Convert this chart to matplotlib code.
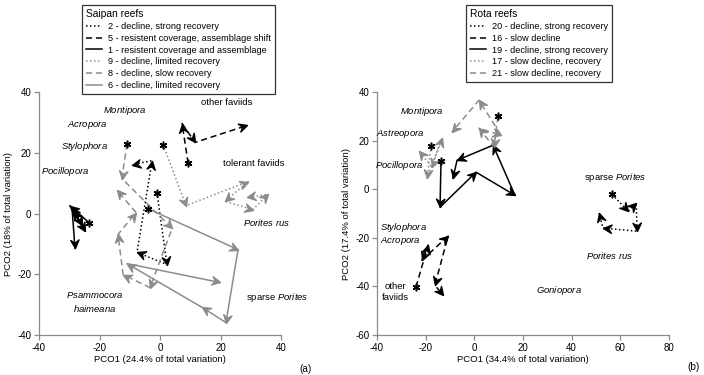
import numpy as np
import matplotlib
matplotlib.use('Agg')
import matplotlib.pyplot as plt
from matplotlib.lines import Line2D
from matplotlib.markers import MarkerStyle
from matplotlib.path import Path
from matplotlib.transforms import Affine2D

plt.rcParams['font.family'] = ['Liberation Sans', 'DejaVu Sans']
plt.rcParams['font.size'] = 6.6
plt.rcParams['axes.unicode_minus'] = False
plt.rcParams['mathtext.fontset'] = 'custom'
plt.rcParams['mathtext.rm'] = 'Liberation Sans'
plt.rcParams['mathtext.it'] = 'Liberation Sans:italic'

GREY = '#8c8c8c'

# ---- Saipan reefs: trajectories in (PCO1, PCO2), first point is the start (*)
saipan_names = ['2 - decline, strong recovery',
                '5 - resistent coverage, assemblage shift',
                '1 - resistent coverage and assemblage',
                '9 - decline, limited recovery',
                '8 - decline, slow recovery',
                '6 - decline, limited recovery']
s2_x = [-1.0, 2.3, -7.6, -2.6, -9.3]
s2_y = [6.9, -16.8, -12.8, 17.4, 16.1]
s5_x = [9.3, 7.3, 11.6, 28.8]
s5_y = [16.5, 29.6, 23.4, 29.0]
s1_x = [-23.5, -29.8, -24.8, -28.4, -25.8, -29.1, -28.1]
s1_y = [-3.0, 2.6, -5.9, 0.7, -3.9, 2.0, -11.5]
s9_x = [1.0, 8.6, 29.1, 21.5, 30.7, 35.7, 28.8]
s9_y = [22.7, 2.6, 10.5, 4.0, 1.3, 6.3, 5.3]
s8_x = [-10.9, -12.6, 4.0, -3.3, -12.2, -13.9, -7.9, -14.2]
s8_y = [23.0, 11.5, -4.9, -24.4, -20.1, -6.9, 0.3, 7.6]
s6_x = [-4.0, 25.8, 21.8, 13.9, -10.9, 19.8]
s6_y = [1.6, -11.9, -35.9, -30.9, -16.5, -22.7]

# ---- Rota reefs
rota_names = ['20 - decline, strong recovery',
              '16 - slow decline',
              '19 - decline, strong recovery',
              '17 - slow decline, recovery',
              '21 - slow decline, recovery']
r20_x = [56.6, 63.2, 66.5, 66.9, 52.9, 51.2]
r20_y = [-2.1, -9.1, -5.8, -17.3, -16.0, -9.9]
r16_x = [-24.0, -19.0, -21.5, -10.8, -16.2, -12.9]
r16_y = [-40.3, -23.0, -29.2, -19.3, -39.5, -43.6]
r19_x = [-13.7, -14.1, 0.7, 16.7, 7.7, -7.1, -8.8]
r19_y = [11.5, -7.4, 7.0, -2.5, 18.1, 11.9, 4.5]
r17_x = [-17.8, -19.4, -13.3, -17.4, -22.7]
r17_y = [17.7, 4.5, 21.0, 9.1, 15.6]
r21_x = [9.7, 8.1, 1.9, 11.0, 1.9, -9.2]
r21_y = [30.0, 17.3, 25.1, 22.2, 36.6, 23.5]

# ---- labels of taxa
saipan_taxa = ['$\\mathit{Montipora}$', '$\\mathit{Acropora}$', '$\\mathit{Stylophora}$',
               '$\\mathit{Pocillopora}$', 'other faviids', 'tolerant faviids',
               '$\\mathit{Porites\\ rus}$', 'sparse $\\mathit{Porites}$',
               '$\\mathit{Psammocora}$\n$\\mathit{haimeana}$']
saipan_tx = [-11.6, -24.1, -25.1, -31.4, 22.1, 31.1, 35.4, 38.7, -21.5]
saipan_ty = [33.9, 29.3, 22.1, 13.8, 36.5, 16.5, -3.0, -27.7, -29.2]
rota_taxa = ['$\\mathit{Montipora}$', '$\\mathit{Astreopora}$', '$\\mathit{Pocillopora}$',
             'sparse $\\mathit{Porites}$', '$\\mathit{Porites\\ rus}$', '$\\mathit{Stylophora}$',
             '$\\mathit{Acropora}$', 'other\nfaviids', '$\\mathit{Goniopora}$']
rota_tx = [-21.5, -30.5, -31.0, 57.8, 55.4, -28.9, -30.5, -32.6, 34.8]
rota_ty = [32.1, 23.0, 9.9, 4.9, -27.2, -15.6, -21.0, -42.2, -41.6]

DOT = (0, (1, 1.6))
DASH = (0, (4, 2.5))
saipan_styles = [('black', DOT), ('black', DASH), ('black', '-'),
                 (GREY, DOT), (GREY, DASH), (GREY, '-')]
rota_styles = [('black', DOT), ('black', DASH), ('black', '-'),
               (GREY, DOT), (GREY, DASH)]

head = Path([(0, 0), (-1, -0.5), (-0.62, 0), (-1, 0.5), (0, 0)],
            [Path.MOVETO, Path.LINETO, Path.LINETO, Path.LINETO, Path.CLOSEPOLY])


def draw_traj(ax, xs, ys, color, ls):
    ax.plot(xs, ys, color=color, ls=ls, lw=1.1, zorder=2)
    pts = ax.transData.transform(np.column_stack([xs, ys]))
    for i in range(1, len(xs)):
        dx, dy = pts[i] - pts[i - 1]
        ang = np.degrees(np.arctan2(dy, dx))
        m = MarkerStyle(head, transform=Affine2D().rotate_deg(ang))
        ax.plot(xs[i], ys[i], marker=m, ms=12, color=color, mec=color, ls='none', zorder=3)
    ax.plot(xs[0], ys[0], marker=(6, 2, 0), ms=5.5, mew=1.1, color='black', ls='none', zorder=4)


def style_axes(ax, xlim, ylim, xticks, yticks):
    ax.set_xlim(*xlim)
    ax.set_ylim(*ylim)
    ax.set_xticks(xticks)
    ax.set_yticks(yticks)
    for s in ['top', 'right']:
        ax.spines[s].set_visible(False)
    for s in ['left', 'bottom']:
        ax.spines[s].set_color(GREY)
        ax.spines[s].set_linewidth(0.9)
    ax.tick_params(direction='out', length=3.5, width=0.9, color=GREY, labelsize=7, pad=2)
    ax.patch.set_visible(False)


fig = plt.figure(figsize=(7.04, 3.75), dpi=100)

axa = fig.add_axes([39 / 704, 40 / 375, 242 / 704, 243 / 375])
style_axes(axa, (-40, 40), (-40, 40), [-40, -20, 0, 20, 40], [-40, -20, 0, 20, 40])
axa.set_xlabel('PCO1 (24.4% of total variation)', labelpad=2, fontsize=6.8)
axa.set_ylabel('PCO2 (18% of total variation)', labelpad=3, fontsize=6.8)
saipan = [(s2_x, s2_y), (s5_x, s5_y), (s1_x, s1_y), (s9_x, s9_y), (s8_x, s8_y), (s6_x, s6_y)]
for (xs, ys), (c, ls) in zip(saipan, saipan_styles):
    draw_traj(axa, xs, ys, c, ls)
for t, x, y in zip(saipan_taxa, saipan_tx, saipan_ty):
    axa.text(x, y, t, ha='center', va='center', fontsize=6.8, linespacing=1.3)

axb = fig.add_axes([377 / 704, 40 / 375, 292 / 704, 243 / 375])
style_axes(axb, (-40, 80), (-60, 40), [-40, -20, 0, 20, 40, 60, 80], [-60, -40, -20, 0, 20, 40])
axb.set_xlabel('PCO1 (34.4% of total variation)', labelpad=2, fontsize=6.8)
axb.set_ylabel('PCO2 (17.4% of total variation)', labelpad=3, fontsize=6.8)
rota = [(r20_x, r20_y), (r16_x, r16_y), (r19_x, r19_y), (r17_x, r17_y), (r21_x, r21_y)]
for (xs, ys), (c, ls) in zip(rota, rota_styles):
    draw_traj(axb, xs, ys, c, ls)
for t, x, y in zip(rota_taxa, rota_tx, rota_ty):
    axb.text(x, y, t, ha='center', va='center', fontsize=6.8, linespacing=1.3)


def reef_legend(names, styles, title, x0):
    handles = [Line2D([], [], color=c, ls=ls, lw=1.1) for c, ls in styles]
    leg = fig.legend(handles, names, title=title, loc='upper left',
                     bbox_to_anchor=(x0, 0.998), fontsize=6.6, title_fontsize=7.4,
                     frameon=True, fancybox=False, edgecolor='black',
                     handlelength=1.8, handletextpad=0.6, labelspacing=0.3,
                     borderpad=0.45, alignment='left')
    leg.get_frame().set_linewidth(0.9)
    return leg


reef_legend(saipan_names, saipan_styles, 'Saipan reefs', 77 / 704)
reef_legend(rota_names, rota_styles, 'Rota reefs', 461 / 704)

fig.text(305 / 704, 1 - 369 / 375, '(a)', ha='center', va='center', fontsize=7.2)
fig.text(694 / 704, 1 - 367 / 375, '(b)', ha='center', va='center', fontsize=7.2)

fig.savefig('out.png', dpi=100)
